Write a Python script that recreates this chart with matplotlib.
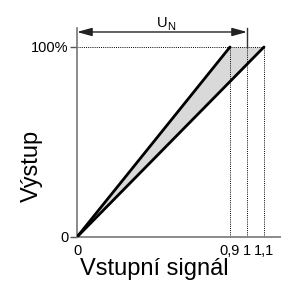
import matplotlib
matplotlib.use("Agg")
import matplotlib.pyplot as plt
import numpy as np

# line endpoints: full output reached at these relative input levels
x_fast = [0.0, 0.9]
x_slow = [0.0, 1.1]
y_out = [0.0, 1.0]
guide_x = [0.9, 1.0, 1.1]
xtick_pos = [0.0, 0.9, 1.0, 1.1]
xtick_lab = ["0", "0,9", "1", "1,1"]
ytick_pos = [0.0, 1.0]
ytick_lab = ["0", "100%"]
un_level = 1.079

plt.rcParams["font.family"] = ["Liberation Sans", "DejaVu Sans"]

fig = plt.figure(figsize=(2.81, 2.84), dpi=100)
ax = fig.add_axes([77 / 281, 47 / 284, 204 / 281, 209 / 284])
ax.set_xlim(0, 1.2)
ax.set_ylim(0, 1.1)

# shaded band between the two characteristics
yy = np.array(y_out)
ax.fill_betweenx(yy, np.array(x_fast), np.array(x_slow), color="#d9d9d9", lw=0, zorder=1)

# dotted guides
for gx in guide_x:
    ax.plot([gx, gx], [0, 1], color="black", lw=0.7, ls=(0, (1, 1.2)), zorder=2)
ax.plot([0, 1.1], [1, 1], color="black", lw=0.7, ls=(0, (1, 1.2)), zorder=2)
ax.plot([1.0, 1.0], [1.0, 1.1], color="#333333", lw=1.0, zorder=2, clip_on=False)

ax.plot(x_fast, y_out, color="black", lw=2.0, solid_capstyle="round", zorder=3)
ax.plot(x_slow, y_out, color="black", lw=2.0, solid_capstyle="round", zorder=3)

# U_N span arrow
ax.annotate("", xy=(0, un_level), xytext=(1.0, un_level),
            arrowprops=dict(arrowstyle="<|-|>,head_length=0.9,head_width=0.25",
                            color="#222222", lw=1.0, shrinkA=0, shrinkB=0),
            annotation_clip=False)
ax.text(0.53, 1.105, "U", ha="right", va="baseline", fontsize=10.5, clip_on=False)
ax.text(0.532, 1.088, "N", ha="left", va="baseline", fontsize=8, clip_on=False)

for s in ["top", "right"]:
    ax.spines[s].set_visible(False)
for s in ["left", "bottom"]:
    ax.spines[s].set_color("#777777")
    ax.spines[s].set_linewidth(1.2)

ax.set_xticks(xtick_pos)
ax.set_xticklabels(xtick_lab, fontsize=10.5)
ax.tick_params(axis="x", length=0, pad=5)
ax.set_yticks(ytick_pos)
ax.set_yticklabels(ytick_lab, fontsize=10.5)
ax.tick_params(axis="y", length=5, width=1.0, color="#555555", pad=1)

ax.set_xlabel("Vstupní signál", fontsize=17)
ax.set_ylabel("Výstup", fontsize=17)
ax.xaxis.set_label_coords(0.38, -0.1)
ax.yaxis.set_label_coords(-0.165, 0.34)

fig.savefig("out.png", dpi=100)
